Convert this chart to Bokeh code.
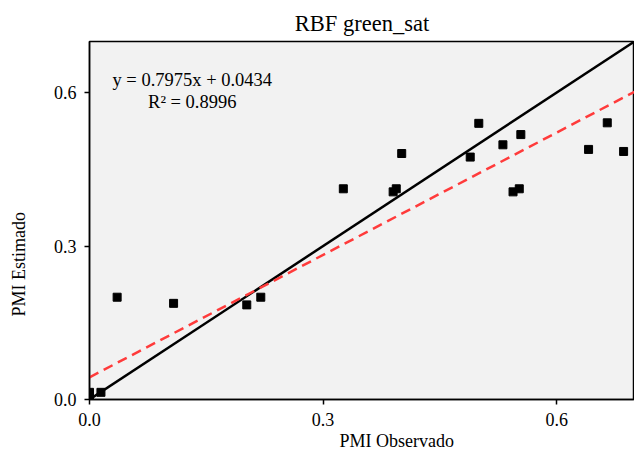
import numpy as np
from bokeh.plotting import figure
from bokeh.models import Range1d, Label, FixedTicker, ColumnDataSource, Title
from bokeh.embed import file_html
from bokeh.resources import INLINE

# ---- data ----
observed = [0.0, 0.0, 0.0, 0.0147, 0.0355, 0.108, 0.202, 0.220, 0.326, 0.390, 0.394,
            0.401, 0.489, 0.500, 0.531, 0.544, 0.552, 0.554, 0.641, 0.665, 0.686]
estimated = [0.0, 0.007, 0.014, 0.014, 0.200, 0.188, 0.185, 0.200, 0.412, 0.406, 0.412,
             0.481, 0.474, 0.540, 0.498, 0.406, 0.412, 0.518, 0.489, 0.541, 0.485]
slope = 0.7975
intercept = 0.0434
r2 = 0.8996
ticks = [0.0, 0.3, 0.6]
tick_labels = {0.0: "0.0", 0.3: "0.3", 0.6: "0.6"}
title_text = "RBF green_sat"
xlabel = "PMI Observado"
ylabel = "PMI Estimado"

FONT = "Liberation Serif"
xmin, xmax = 0.0, 0.7
ymin, ymax = 0.0, 0.7

p = figure(width=634, height=450, output_backend="svg", toolbar_location=None,
           x_range=Range1d(xmin, xmax), y_range=Range1d(ymin, ymax),
           min_border_left=89, min_border_right=0, min_border_top=41, min_border_bottom=50)
p.background_fill_color = "#f2f2f2"
p.border_fill_color = "white"
p.outline_line_color = "black"
p.outline_line_width = 1.5
p.grid.visible = False

p.title.text = title_text
p.title.align = "center"
p.title.text_font = FONT
p.title.text_font_size = "22.5px"
p.title.text_font_style = "normal"
p.title.text_color = "black"
p.title.standoff = 11

for ax in (p.xaxis[0], p.yaxis[0]):
    ax.ticker = FixedTicker(ticks=ticks)
    ax.major_label_overrides = tick_labels
    ax.major_label_text_font = FONT
    ax.major_label_text_font_size = "18px"
    ax.major_label_text_color = "black"
    ax.major_tick_in = 0
    ax.major_tick_out = 5
    ax.major_tick_line_width = 1.5
    ax.minor_tick_line_color = None
    ax.axis_line_width = 1.5
    ax.axis_line_color = "black"
p.xaxis.major_label_standoff = 8
p.yaxis.major_label_standoff = 8

# axis labels as side titles (offset like the reference)
p.add_layout(Title(text=xlabel, align="left", offset=250, standoff=0, text_font=FONT,
                   text_font_size="18px", text_font_style="normal", text_color="black"), "below")
# spacer between y tick labels and y axis label
p.add_layout(Title(text=" ", standoff=0, text_font=FONT, text_font_size="18px"), "left")
p.add_layout(Title(text=ylabel, align="left", offset=83, standoff=0, text_font=FONT,
                   text_font_size="18px", text_font_style="normal", text_color="black"), "left")

# 1:1 line
xs = np.array([xmin, xmax])
p.line(xs, xs, line_color="black", line_width=2.5)
# regression line
p.line(xs, slope * xs + intercept, line_color="#ff3b3b", line_width=2.5, line_dash="10 6")

src = ColumnDataSource(dict(x=observed, y=estimated))
p.scatter("x", "y", source=src, marker="square", size=8, fill_color="black", line_color="black")

def lab(x, y, text, size):
    p.add_layout(Label(x=x, y=y, text=text, text_font=FONT, text_font_size=size,
                       text_align="center", text_baseline="middle", text_color="black"))

lab(0.132, 0.624, f"y = {slope}x + {intercept}", "18.5px")
lab(0.132, 0.581, f"R² = {r2}", "18.5px")

open("out.html", "w").write(file_html(p, INLINE))
